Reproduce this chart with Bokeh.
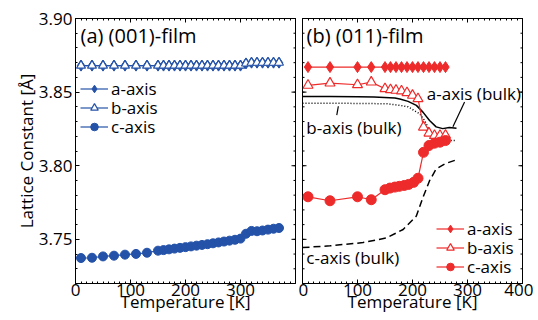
from bokeh.plotting import figure
from bokeh.layouts import row
from bokeh.models import (LinearAxis, FixedTicker, Range1d, Legend,
                          LegendItem, Label, Segment, ColumnDataSource,
                          PrintfTickFormatter, CustomJSTickFormatter)
from bokeh.embed import file_html
from bokeh.resources import INLINE

# ---------------- data: (a) (001)-film ----------------
T_001 = [10, 30, 50, 70, 90, 110, 130, 150, 160, 170, 180, 190, 200, 210, 220,
         230, 240, 250, 260, 270, 280, 290, 300, 310, 320, 330, 340, 350, 360, 370]
a_001 = [3.868] * 23 + [3.8695, 3.870, 3.870, 3.870, 3.870, 3.870, 3.870]
b_001 = [3.868] * 23 + [3.8695, 3.870, 3.870, 3.870, 3.870, 3.870, 3.870]
c_001 = [3.7373, 3.7375, 3.7384, 3.7389, 3.7396, 3.7401, 3.7409, 3.7423, 3.7427,
         3.7432, 3.7437, 3.7442, 3.7447, 3.7452, 3.7457, 3.7462, 3.7467, 3.7473,
         3.7479, 3.7485, 3.7491, 3.7497, 3.7505, 3.7538, 3.7557, 3.7555, 3.7560,
         3.7566, 3.7572, 3.7577]

# ---------------- data: (b) (011)-film ----------------
T_ab_011 = [10, 50, 100, 125, 150, 160, 170, 180, 190, 200, 210, 220, 230, 240, 250, 260]
a_011 = [3.867] * 16
b_011 = [3.8546, 3.8561, 3.8550, 3.8568, 3.8523, 3.8516, 3.8512, 3.8507, 3.8496,
         3.8478, 3.8455, 3.8262, 3.8221, 3.8205, 3.8205, 3.8207]
T_c_011 = [10, 50, 100, 125, 150, 159, 168, 176, 185, 193, 202, 210, 220, 230, 240, 250, 260]
c_011 = [3.7789, 3.7762, 3.7789, 3.7769, 3.7837, 3.7848, 3.7855, 3.7860, 3.7866,
         3.7873, 3.7887, 3.7915, 3.8091, 3.8137, 3.8153, 3.8160, 3.8171]

# bulk curves
T_a_bulk = [0, 50, 100, 130, 168, 177, 192, 207, 219, 231, 243, 255, 267, 280]
a_bulk = [3.8470, 3.8470, 3.8468, 3.8466, 3.8460, 3.8453, 3.8437, 3.8410, 3.8364,
          3.8307, 3.8264, 3.8252, 3.8260, 3.8255]
T_b_bulk = [0, 50, 100, 153, 177, 192, 213, 222, 231, 237, 249, 265, 280]
b_bulk = [3.8425, 3.8425, 3.8423, 3.8421, 3.8410, 3.8400, 3.8353, 3.8307, 3.8239,
          3.8193, 3.8171, 3.8171, 3.8171]
T_c_bulk = [0, 50, 110, 153, 183, 207, 219, 231, 243, 260, 280]
c_bulk = [3.7444, 3.7456, 3.7478, 3.7510, 3.7567, 3.7658, 3.7785, 3.7898, 3.7978,
          3.8015, 3.8040]

# axis ticks
x_major_a = [0, 100, 200, 300]          # panel (a): no "400" label
x_major_b = [0, 100, 200, 300, 400]
x_minor = [v for v in range(0, 401, 10)]
y_major = [3.75, 3.80, 3.85, 3.90]
y_minor = [round(3.72 + 0.01 * i, 2) for i in range(19)]

BLUE = "#2452a8"
RED = "#ee2b2b"
FONT = "Open Sans"
FS = "17px"

Y0, Y1 = 3.72, 3.90
X0, X1 = 0, 400
FRAME_W = 220
FIG_H = 320
BORDER_TOP = 18
BORDER_BOTTOM = 37
MAJ_PX, MIN_PX = 4, 2


def style_axis(ax, major, minor, labels=True):
    ax.ticker = FixedTicker(ticks=major, minor_ticks=minor)
    ax.major_tick_in = MAJ_PX
    ax.major_tick_out = 0
    ax.minor_tick_in = MIN_PX
    ax.minor_tick_out = 0
    ax.axis_line_color = "black"
    ax.major_tick_line_color = "black"
    ax.minor_tick_line_color = "black"
    ax.major_label_text_font = FONT
    ax.major_label_text_font_size = FS
    ax.major_label_text_color = "black"
    ax.major_label_standoff = 3
    if not labels:
        ax.formatter = CustomJSTickFormatter(code="return ''")
        ax.major_label_standoff = 0
    ax.axis_label_text_font = FONT
    ax.axis_label_text_font_size = FS
    ax.axis_label_text_font_style = "normal"
    ax.axis_label_text_color = "black"


def side_ticks(p, xpos, sign):
    # inward tick marks on a vertical frame edge (mirror ticks)
    k = (X1 - X0) / FRAME_W
    for ticks, ln in ((y_major, MAJ_PX), (y_minor, MIN_PX)):
        src = ColumnDataSource(dict(x0=[xpos] * len(ticks), y0=ticks,
                                    x1=[xpos + sign * ln * k] * len(ticks), y1=ticks))
        p.add_glyph(src, Segment(x0="x0", y0="y0", x1="x1", y1="y1",
                                 line_color="black", line_width=1))


def make_fig(width, left, right, ylabels, x_major):
    p = figure(width=width, height=FIG_H, output_backend="svg", toolbar_location=None,
               x_range=Range1d(X0, X1), y_range=Range1d(Y0, Y1),
               min_border_left=left, min_border_right=right,
               min_border_top=BORDER_TOP, min_border_bottom=BORDER_BOTTOM,
               x_axis_label="Temperature [K]",
               y_axis_label="Lattice Constant [Å]" if ylabels else None)
    p.grid.visible = False
    p.outline_line_color = "black"
    p.background_fill_color = "white"
    p.border_fill_color = "white"
    style_axis(p.xaxis[0], x_major, x_minor)
    p.xaxis[0].major_label_standoff = 0
    p.xaxis[0].axis_label_standoff = -9
    if ylabels:
        style_axis(p.yaxis[0], y_major, y_minor)
        p.yaxis[0].formatter = PrintfTickFormatter(format="%.2f")
        p.yaxis[0].axis_label_standoff = -2
    else:
        p.yaxis[0].visible = False
        side_ticks(p, X0, 1)
    side_ticks(p, X1, -1)
    top = LinearAxis()
    style_axis(top, x_major_b, x_minor, labels=False)
    p.add_layout(top, "above")
    return p


def add_legend(p, items, x, ys):
    for (lab, rends), y in zip(items, ys):
        lg = Legend(items=[LegendItem(label=lab, renderers=rends)],
                    location=(x, y), glyph_width=28, glyph_height=19, label_height=19,
                    spacing=0, padding=0, margin=0, label_standoff=3,
                    label_text_font=FONT, label_text_font_size=FS,
                    label_text_color="black",
                    background_fill_alpha=0, border_line_alpha=0)
        p.add_layout(lg)


# ---------------- panel (a) ----------------
p1 = make_fig(75 + FRAME_W + 3, 75, 3, True, x_major_a)
la1 = p1.line(T_001, a_001, line_color=BLUE, line_width=1.2)
sa1 = p1.scatter(T_001, a_001, marker="diamond", size=11, fill_color=BLUE, line_color=BLUE)
lb1 = p1.line(T_001, b_001, line_color=BLUE, line_width=1.2)
sb1 = p1.scatter(T_001, b_001, marker="triangle", size=9, fill_color="white",
                 line_color=BLUE, line_width=1.2)
lc1 = p1.line(T_001, c_001, line_color=BLUE, line_width=1.2)
sc1 = p1.scatter(T_001, c_001, marker="circle", size=9, fill_color=BLUE, line_color=BLUE)

add_legend(p1, [("a-axis", [la1, sa1]), ("b-axis", [lb1, sb1]), ("c-axis", [lc1, sc1])],
           5, [183, 164, 145])
p1.add_layout(Label(x=5, y=248, x_units="screen", y_units="screen",
                    text="(a) (001)-film", text_font=FONT, text_font_size="20px",
                    text_baseline="middle", text_color="black"))

# ---------------- panel (b) ----------------
p2 = make_fig(4 + FRAME_W + 11, 4, 11, False, x_major_b)
ab_line = p2.line(T_a_bulk, a_bulk, line_color="black", line_width=1.5)
bb_line = p2.line(T_b_bulk, b_bulk, line_color="black", line_width=1.5, line_dash="1 2")
cb_line = p2.line(T_c_bulk, c_bulk, line_color="black", line_width=1.5, line_dash="7 4")

la2 = p2.line(T_ab_011, a_011, line_color=RED, line_width=1.2)
sa2 = p2.scatter(T_ab_011, a_011, marker="diamond", size=11, fill_color=RED, line_color=RED)
lb2 = p2.line(T_ab_011, b_011, line_color=RED, line_width=1.2)
sb2 = p2.scatter(T_ab_011, b_011, marker="triangle", size=10, fill_color="white",
                 line_color=RED, line_width=1.2)
lc2 = p2.line(T_c_011, c_011, line_color=RED, line_width=1.2)
sc2 = p2.scatter(T_c_011, c_011, marker="circle", size=10, fill_color=RED, line_color=RED)

add_legend(p2, [("a-axis", [la2, sa2]), ("b-axis", [lb2, sb2]), ("c-axis", [lc2, sc2])],
           134, [43, 24, 5])
p2.add_layout(Label(x=4, y=248, x_units="screen", y_units="screen",
                    text="(b) (011)-film", text_font=FONT, text_font_size="20px",
                    text_baseline="middle", text_color="black"))

for txt, tx, ty in [("a-axis (bulk)", 226, 3.849), ("b-axis (bulk)", 7, 3.8257),
                    ("c-axis (bulk)", 7, 3.7374)]:
    p2.add_layout(Label(x=tx, y=ty, text=txt, text_font=FONT, text_font_size=FS,
                        text_baseline="middle", text_color="black"))

leaders = ColumnDataSource(dict(x0=[294.7, 65.2], y0=[3.8433, 3.8404],
                                x1=[273.5, 62.3], y1=[3.8264, 3.8343]))
p2.add_glyph(leaders, Segment(x0="x0", y0="y0", x1="x1", y1="y1",
                              line_color="black", line_width=1.2))

layout = row(p1, p2, spacing=0)
open("out.html", "w").write(file_html(layout, INLINE))
